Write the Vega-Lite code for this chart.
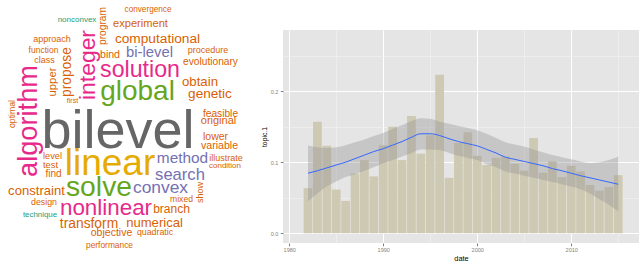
{
  "$schema": "https://vega.github.io/schema/vega-lite/v6.json",
  "padding": 0,
  "background": "white",
  "spacing": 16,
  "config": {"view": {"stroke": null}, "font": "Liberation Sans"},
  "hconcat": [
    {
      "width": 245,
      "height": 213,
      "data": {"values": [
        {"word": "nonconvex", "x": 77, "y": 20, "freq": 16, "tier": 1, "orientation": "h"},
        {"word": "convergence", "x": 148, "y": 9.6, "freq": 16.4, "tier": 2, "orientation": "h"},
        {"word": "experiment", "x": 140.5, "y": 23.7, "freq": 22.2, "tier": 2, "orientation": "h"},
        {"word": "approach", "x": 52, "y": 39.3, "freq": 18, "tier": 2, "orientation": "h"},
        {"word": "function", "x": 43.5, "y": 49.5, "freq": 17, "tier": 2, "orientation": "h"},
        {"word": "class", "x": 44.5, "y": 60.3, "freq": 18, "tier": 2, "orientation": "h"},
        {"word": "computational", "x": 157.5, "y": 38.9, "freq": 27.4, "tier": 2, "orientation": "h"},
        {"word": "bi-level", "x": 149.5, "y": 52.6, "freq": 29.6, "tier": 3, "orientation": "h"},
        {"word": "bind", "x": 110, "y": 54.8, "freq": 21.2, "tier": 2, "orientation": "h"},
        {"word": "procedure", "x": 208, "y": 50.3, "freq": 18, "tier": 2, "orientation": "h"},
        {"word": "evolutionary", "x": 210.5, "y": 62, "freq": 20.4, "tier": 2, "orientation": "h"},
        {"word": "solution", "x": 140, "y": 70, "freq": 46.4, "tier": 4, "orientation": "h"},
        {"word": "global", "x": 137.5, "y": 91.6, "freq": 56, "tier": 5, "orientation": "h"},
        {"word": "obtain", "x": 200, "y": 82, "freq": 26.4, "tier": 2, "orientation": "h"},
        {"word": "first", "x": 72.5, "y": 101, "freq": 14, "tier": 2, "orientation": "h"},
        {"word": "genetic", "x": 210, "y": 94.2, "freq": 27.2, "tier": 2, "orientation": "h"},
        {"word": "feasible", "x": 220.5, "y": 113.6, "freq": 20.4, "tier": 2, "orientation": "h"},
        {"word": "original", "x": 218.5, "y": 121, "freq": 22, "tier": 2, "orientation": "h"},
        {"word": "lower", "x": 215.5, "y": 136.8, "freq": 21, "tier": 2, "orientation": "h"},
        {"word": "variable", "x": 219.5, "y": 145.8, "freq": 21.2, "tier": 2, "orientation": "h"},
        {"word": "bilevel", "x": 118, "y": 131.8, "freq": 108, "tier": 8, "orientation": "h"},
        {"word": "linear", "x": 110, "y": 164, "freq": 74, "tier": 6, "orientation": "h"},
        {"word": "level", "x": 52.5, "y": 156.2, "freq": 18.4, "tier": 2, "orientation": "h"},
        {"word": "test", "x": 50.5, "y": 165, "freq": 18.6, "tier": 2, "orientation": "h"},
        {"word": "find", "x": 53.5, "y": 174, "freq": 20, "tier": 2, "orientation": "h"},
        {"word": "method", "x": 182.5, "y": 158.4, "freq": 30.8, "tier": 3, "orientation": "h"},
        {"word": "illustrate", "x": 226, "y": 158.3, "freq": 18, "tier": 2, "orientation": "h"},
        {"word": "condition", "x": 225, "y": 165.6, "freq": 16, "tier": 2, "orientation": "h"},
        {"word": "search", "x": 180, "y": 175, "freq": 33.2, "tier": 3, "orientation": "h"},
        {"word": "solve", "x": 99, "y": 187.5, "freq": 56.6, "tier": 5, "orientation": "h"},
        {"word": "convex", "x": 160.5, "y": 187.8, "freq": 34.8, "tier": 3, "orientation": "h"},
        {"word": "constraint", "x": 36.5, "y": 191, "freq": 26.2, "tier": 2, "orientation": "h"},
        {"word": "design", "x": 44, "y": 202.4, "freq": 17.6, "tier": 2, "orientation": "h"},
        {"word": "mixed", "x": 181.5, "y": 199.4, "freq": 17.2, "tier": 2, "orientation": "h"},
        {"word": "technique", "x": 40, "y": 214.6, "freq": 15.8, "tier": 1, "orientation": "h"},
        {"word": "nonlinear", "x": 106, "y": 208.3, "freq": 44.8, "tier": 4, "orientation": "h"},
        {"word": "branch", "x": 171.5, "y": 209.4, "freq": 24, "tier": 2, "orientation": "h"},
        {"word": "transform", "x": 89, "y": 223.9, "freq": 27.6, "tier": 2, "orientation": "h"},
        {"word": "numerical", "x": 154.5, "y": 223, "freq": 26.2, "tier": 2, "orientation": "h"},
        {"word": "objective", "x": 111.5, "y": 232.9, "freq": 21, "tier": 2, "orientation": "h"},
        {"word": "quadratic", "x": 155, "y": 232.4, "freq": 17.6, "tier": 2, "orientation": "h"},
        {"word": "performance", "x": 109.5, "y": 244.5, "freq": 16.8, "tier": 2, "orientation": "h"},
        {"word": "program", "x": 103, "y": 26, "freq": 20.4, "tier": 2, "orientation": "v"},
        {"word": "propose", "x": 67, "y": 72, "freq": 27.6, "tier": 2, "orientation": "v"},
        {"word": "upper", "x": 53, "y": 82, "freq": 22.6, "tier": 2, "orientation": "v"},
        {"word": "integer", "x": 88, "y": 65, "freq": 45.8, "tier": 4, "orientation": "v"},
        {"word": "algorithm", "x": 29, "y": 121, "freq": 54.4, "tier": 4, "orientation": "v"},
        {"word": "optimal", "x": 12, "y": 114, "freq": 17.4, "tier": 2, "orientation": "v"},
        {"word": "show", "x": 200, "y": 192.5, "freq": 18, "tier": 2, "orientation": "v"}
      ]},
      "mark": {"type": "text", "align": "center", "baseline": "middle", "font": "Liberation Sans"},
      "encoding": {
        "x": {"field": "x", "type": "quantitative", "scale": {"domain": [0, 245], "nice": false, "zero": false},
              "axis": {"orient": "top", "title": null, "labels": false, "ticks": false, "domain": false, "grid": false, "minExtent": 30, "maxExtent": 30}},
        "y": {"field": "y", "type": "quantitative", "scale": {"domain": [30, 243], "nice": false, "zero": false, "reverse": true}, "axis": null},
        "text": {"field": "word"},
        "size": {"field": "freq", "type": "quantitative", "scale": {"domain": [0, 120], "range": [0, 60], "zero": true}, "legend": null},
        "color": {"field": "tier", "type": "ordinal", "scale": {"domain": [1, 2, 3, 4, 5, 6, 7, 8], "scheme": "dark2"}, "legend": null},
        "angle": {"field": "orientation", "type": "nominal", "scale": {"domain": ["h", "v"], "range": [0, 270]}, "legend": null}
      }
    },
    {
      "width": 356,
      "height": 213,
      "view": {"fill": "#E5E5E5", "stroke": null},
      "resolve": {"axis": {"x": "independent"}},
      "data": {"values": [
        {"year": 1982, "topic1": 0.0634, "fit": 0.0845, "lo": 0.045, "hi": 0.1235},
        {"year": 1983, "topic1": 0.157, "fit": 0.088, "lo": 0.056, "hi": 0.121},
        {"year": 1984, "topic1": 0.123, "fit": 0.092, "lo": 0.066, "hi": 0.120},
        {"year": 1985, "topic1": 0.0615, "fit": 0.096, "lo": 0.073, "hi": 0.121},
        {"year": 1986, "topic1": 0.0455, "fit": 0.100, "lo": 0.079, "hi": 0.124},
        {"year": 1987, "topic1": 0.084, "fit": 0.105, "lo": 0.083, "hi": 0.128},
        {"year": 1988, "topic1": 0.103, "fit": 0.110, "lo": 0.088, "hi": 0.132},
        {"year": 1989, "topic1": 0.080, "fit": 0.115, "lo": 0.093, "hi": 0.137},
        {"year": 1990, "topic1": 0.124, "fit": 0.119, "lo": 0.0986, "hi": 0.141},
        {"year": 1991, "topic1": 0.150, "fit": 0.124, "lo": 0.103, "hi": 0.147},
        {"year": 1992, "topic1": 0.103, "fit": 0.129, "lo": 0.108, "hi": 0.152},
        {"year": 1993, "topic1": 0.165, "fit": 0.135, "lo": 0.113, "hi": 0.158},
        {"year": 1994, "topic1": 0.112, "fit": 0.140, "lo": 0.118, "hi": 0.162},
        {"year": 1995, "topic1": 0.138, "fit": 0.140, "lo": 0.118, "hi": 0.161},
        {"year": 1996, "topic1": 0.223, "fit": 0.1375, "lo": 0.117, "hi": 0.157},
        {"year": 1997, "topic1": 0.078, "fit": 0.133, "lo": 0.113, "hi": 0.154},
        {"year": 1998, "topic1": 0.127, "fit": 0.129, "lo": 0.109, "hi": 0.151},
        {"year": 1999, "topic1": 0.142, "fit": 0.126, "lo": 0.106, "hi": 0.148},
        {"year": 2000, "topic1": 0.109, "fit": 0.123, "lo": 0.103, "hi": 0.145},
        {"year": 2001, "topic1": 0.096, "fit": 0.118, "lo": 0.097, "hi": 0.140},
        {"year": 2002, "topic1": 0.106, "fit": 0.113, "lo": 0.093, "hi": 0.134},
        {"year": 2003, "topic1": 0.108, "fit": 0.107, "lo": 0.087, "hi": 0.128},
        {"year": 2004, "topic1": 0.098, "fit": 0.104, "lo": 0.084, "hi": 0.125},
        {"year": 2005, "topic1": 0.088, "fit": 0.101, "lo": 0.081, "hi": 0.122},
        {"year": 2006, "topic1": 0.134, "fit": 0.098, "lo": 0.078, "hi": 0.118},
        {"year": 2007, "topic1": 0.085, "fit": 0.095, "lo": 0.075, "hi": 0.114},
        {"year": 2008, "topic1": 0.101, "fit": 0.091, "lo": 0.072, "hi": 0.110},
        {"year": 2009, "topic1": 0.079, "fit": 0.088, "lo": 0.069, "hi": 0.107},
        {"year": 2010, "topic1": 0.095, "fit": 0.0845, "lo": 0.0657, "hi": 0.104},
        {"year": 2011, "topic1": 0.087, "fit": 0.081, "lo": 0.062, "hi": 0.101},
        {"year": 2012, "topic1": 0.068, "fit": 0.078, "lo": 0.056, "hi": 0.099},
        {"year": 2013, "topic1": 0.060, "fit": 0.075, "lo": 0.048, "hi": 0.100},
        {"year": 2014, "topic1": 0.065, "fit": 0.072, "lo": 0.040, "hi": 0.103},
        {"year": 2015, "topic1": 0.0817, "fit": 0.069, "lo": 0.0305, "hi": 0.108}
      ]},
      "layer": [
        {
          "mark": {"type": "bar", "width": 8.7, "color": "#CEC9B2"},
          "encoding": {
            "x": {
              "field": "year", "type": "quantitative", "title": "date",
              "scale": {"domain": [1979.87, 2016.68], "nice": false, "zero": false},
              "axis": {
                "orient": "bottom",
                "values": [1980, 1985, 1990, 1995, 2000, 2005, 2010, 2015],
                "format": "d",
                "labelExpr": "datum.value % 10 === 0 ? datum.label : ''",
                "grid": true,
                "gridColor": {"condition": {"test": "datum.value % 10 === 0", "value": "#FFFFFF"}, "value": "#F2F2F2"},
                "gridWidth": {"condition": {"test": "datum.value % 10 === 0", "value": 1}, "value": 0.6},
                "tickColor": {"condition": {"test": "datum.value % 10 === 0", "value": "#7F7F7F"}, "value": "rgba(0,0,0,0)"},
                "domain": false,
                "tickSize": 2.7,
                "labelFontSize": 5.5,
                "labelColor": "#7F7F7F",
                "labelPadding": 1.5,
                "labelFlush": false,
                "labelOverlap": false,
                "titleFontSize": 7.4,
                "titleColor": "#000000",
                "titleFontWeight": "normal",
                "titlePadding": 2
              }
            },
            "y": {
              "field": "topic1", "type": "quantitative", "title": "topic.1",
              "scale": {"domain": [-0.0137, 0.286], "nice": false, "zero": false},
              "axis": {
                "values": [0, 0.05, 0.1, 0.15, 0.2, 0.25],
                "format": ".1f",
                "labelExpr": "round(datum.value * 20) % 2 === 0 ? datum.label : ''",
                "grid": true,
                "gridColor": {"condition": {"test": "round(datum.value * 20) % 2 === 0", "value": "#FFFFFF"}, "value": "#F2F2F2"},
                "gridWidth": {"condition": {"test": "round(datum.value * 20) % 2 === 0", "value": 1}, "value": 0.6},
                "tickColor": {"condition": {"test": "round(datum.value * 20) % 2 === 0", "value": "#7F7F7F"}, "value": "rgba(0,0,0,0)"},
                "domain": false,
                "tickSize": 2.7,
                "labelFontSize": 5.5,
                "labelColor": "#7F7F7F",
                "labelPadding": 2.5,
                "labelFlush": false,
                "labelOverlap": false,
                "titleFontSize": 6.8,
                "titleColor": "#000000",
                "titleFontWeight": "normal",
                "titlePadding": 3
              }
            },
            "y2": {"datum": 0}
          }
        },
        {
          "mark": {"type": "area", "interpolate": "monotone", "color": "#999999", "opacity": 0.4},
          "encoding": {
            "x": {"field": "year", "type": "quantitative", "axis": null},
            "y": {"field": "lo", "type": "quantitative"},
            "y2": {"field": "hi"}
          }
        },
        {
          "mark": {"type": "line", "interpolate": "monotone", "color": "#3366FF", "strokeWidth": 1},
          "encoding": {
            "x": {"field": "year", "type": "quantitative",
                  "axis": {"orient": "top", "title": null, "labels": false, "ticks": false, "domain": false, "grid": false, "minExtent": 30, "maxExtent": 30}},
            "y": {"field": "fit", "type": "quantitative"}
          }
        }
      ]
    }
  ]
}
